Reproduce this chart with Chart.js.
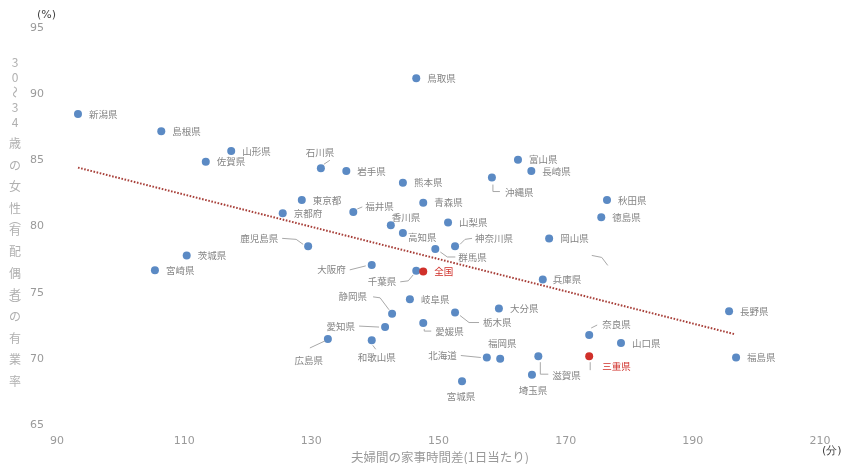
<!DOCTYPE html>
<html><head><meta charset="utf-8">
<script src="https://cdn.jsdelivr.net/npm/chart.js@4/dist/chart.umd.min.js"></script>
<style>html,body{margin:0;padding:0;background:#fff}#wrap{width:844px;height:464px;position:relative}</style>
</head><body><div id="wrap"><canvas id="c" width="844" height="464"></canvas></div>
<script>
// ---- data ----
const prefectures = ['新潟県','島根県','山形県','佐賀県','石川県','岩手県','鳥取県','熊本県','富山県','長崎県','沖縄県','秋田県','徳島県','東京都','京都府','福井県','青森県','香川県','高知県','山梨県','神奈川県','群馬県','鹿児島県','岡山県','兵庫県','茨城県','宮崎県','大阪府','千葉県','全国','岐阜県','静岡県','大分県','栃木県','愛知県','愛媛県','広島県','和歌山県','北海道','福岡県','滋賀県','埼玉県','宮城県','奈良県','山口県','三重県','長野県','福島県'];
const houseworkGap = [93.3,106.4,117.4,113.4,131.5,135.5,146.5,144.4,162.5,164.6,158.4,176.5,175.6,128.5,125.5,136.6,147.6,142.5,144.4,151.5,152.6,149.5,129.5,167.4,166.4,110.4,105.4,139.5,146.5,147.6,145.5,142.7,159.5,152.6,141.6,147.6,132.6,139.5,157.6,159.7,165.7,164.7,153.7,173.7,178.7,173.7,195.7,196.8];
const employmentRate = [88.5,87.2,85.7,84.9,84.4,84.2,91.2,83.3,85.05,84.2,83.7,82.0,80.7,82.0,81.0,81.1,81.8,80.1,79.5,80.3,78.5,78.3,78.5,79.1,76.0,77.8,76.7,77.1,76.65,76.6,74.5,73.4,73.8,73.5,72.4,72.7,71.5,71.4,70.1,70.0,70.2,68.8,68.3,71.8,71.2,70.2,73.6,70.1];
const highlighted = ['全国','三重県'];
const trendX = [93.3, 196.7];
const trendY = [84.45, 71.85];
const xTicks = [90,110,130,150,170,190,210];
const yTicks = [65,70,75,80,85,90,95];
const xTitle = '夫婦間の家事時間差(1日当たり)';
const yTitle = '30～34歳の女性︵有配偶者︶の有業率';
const xUnit = '(分)';
const yUnit = '(%)';

// ---- label layout (pixel offsets from each point) ----
const labelLayout = {
  '石川県': {dx:-15, dy:-16, leader:[[3,-4],[9,-8]]},
  '沖縄県': {dx:13, dy:15, leader:[[1,7],[1,14],[8,14]]},
  '福井県': {dx:12, dy:-6, leader:[[4,-3],[9,-5]]},
  '香川県': {dx:1, dy:-8},
  '高知県': {dx:5, dy:4},
  '神奈川県': {dx:20, dy:-8, leader:[[5,-2],[10,-7],[17,-8]]},
  '群馬県': {dx:23, dy:8, leader:[[5,3],[12,8],[20,8]]},
  '鹿児島県': {dx:-30, dy:-8, align:'right', leader:[[-5,-2],[-12,-7],[-26,-8]]},
  '大阪府': {dx:-26, dy:5, align:'right', leader:[[-6,1],[-22,5]]},
  '千葉県': {dx:-20, dy:11, align:'right', leader:[[-3,4],[-8,10],[-16,11]]},
  '静岡県': {dx:-25, dy:-17, align:'right', leader:[[-3,-4],[-12,-16],[-19,-17]]},
  '栃木県': {dx:28, dy:10, leader:[[5,3],[14,10],[24,10]]},
  '愛知県': {dx:-30, dy:-1, align:'right', leader:[[-6,0],[-26,-1]]},
  '愛媛県': {dx:12, dy:8, leader:[[1,6],[1,8],[8,8]]},
  '広島県': {dx:-19, dy:21, align:'center', leader:[[-3,2],[-18,9]]},
  '和歌山県': {dx:5, dy:17, align:'center', leader:[[1,5],[4,9]]},
  '北海道': {dx:-30, dy:-2, align:'right', leader:[[-6,0],[-26,-2]]},
  '福岡県': {dx:2, dy:-15, align:'center'},
  '滋賀県': {dx:14, dy:19, leader:[[2,6],[2,18],[10,18]]},
  '埼玉県': {dx:1, dy:16, align:'center'},
  '宮城県': {dx:-1, dy:15, align:'center'},
  '奈良県': {dx:13, dy:-11, leader:[[2,-7],[8,-10]]},
  '三重県': {dx:13, dy:10, leader:[[1,6],[1,14]]},
  '兵庫県': {dx:10, dy:0, extra:[[49,-24],[59,-22],[65,-14]]}
};

const BLUE = '#5b8ac4';
const RED = '#d0302a';
const CJK = '"Noto Sans CJK JP", "Noto Sans", sans-serif';

const points = prefectures.map((p,i)=>({x:houseworkGap[i], y:employmentRate[i]}));
const colors = prefectures.map(p => highlighted.includes(p) ? RED : BLUE);

const labelPlugin = {
  id: 'labels',
  afterDatasetsDraw(chart) {
    const ctx = chart.ctx;
    const meta = chart.getDatasetMeta(0);
    ctx.save();
    ctx.font = '9.5px ' + CJK;
    ctx.textBaseline = 'middle';
    meta.data.forEach((el, i) => {
      const name = prefectures[i];
      const cfg = labelLayout[name] || {};
      const dx = cfg.dx !== undefined ? cfg.dx : 11;
      const dy = cfg.dy || 0;
      const px = el.x, py = el.y;
      ctx.strokeStyle = '#a8a8a8';
      ctx.lineWidth = 1;
      ctx.lineJoin = 'round';
      [cfg.leader, cfg.extra].forEach(pl => {
        if (!pl) return;
        ctx.beginPath();
        pl.forEach((q, k) => { const X = px + q[0], Y = py + q[1]; k ? ctx.lineTo(X, Y) : ctx.moveTo(X, Y); });
        ctx.stroke();
      });
      ctx.textAlign = cfg.align || 'left';
      ctx.fillStyle = highlighted.includes(name) ? RED : '#858585';
      ctx.fillText(name, px + dx, py + dy);
    });
    // axis units and titles
    ctx.fillStyle = '#444';
    ctx.font = '11px "DejaVu Sans", sans-serif';
    ctx.textAlign = 'left';
    ctx.fillText(yUnit, 37, 15);
    ctx.fillText(xUnit, 822, 451);
    ctx.fillStyle = '#9a9a9a';
    ctx.font = '12.5px ' + CJK;
    ctx.textAlign = 'center';
    ctx.fillText(xTitle, 440, 457);
    // vertical y title
    ctx.font = '12px ' + CJK;
    ctx.fillStyle = '#b0b0b0';
    let y = 62;
    const chars = Array.from(yTitle);
    chars.forEach((ch, k) => {
      const narrow = /[0-9～]/.test(ch);
      const bracket = /[︵︶]/.test(ch);
      if (ch === '～') {
        ctx.save(); ctx.translate(15, y); ctx.rotate(Math.PI/2); ctx.fillText(ch, 0, 0); ctx.restore();
      } else {
        ctx.fillText(ch, 15, y);
      }
      const next = chars[k+1];
      if (!next) return;
      const nNarrow = /[0-9～]/.test(next);
      const nBracket = /[︵︶]/.test(next);
      if (narrow && nNarrow) y += 15;
      else if (bracket || nBracket) y += 11;
      else y += 21.5;
    });
    ctx.restore();
  }
};

new Chart(document.getElementById('c'), {
  type: 'scatter',
  data: {
    datasets: [
      {
        label: '有業率',
        data: points,
        pointBackgroundColor: colors,
        pointBorderWidth: 0,
        pointRadius: 4,
        pointHoverRadius: 4
      },
      {
        type: 'line',
        label: '近似線',
        data: trendX.map((x,i)=>({x, y: trendY[i]})),
        borderColor: '#a8403a',
        borderWidth: 2,
        borderDash: [1.6, 1.6],
        pointRadius: 0,
        fill: false
      }
    ]
  },
  options: {
    responsive: false,
    animation: false,
    events: [],
    layout: { padding: { top: 28, right: 24, left: 0, bottom: 0 } },
    plugins: { legend: { display: false }, tooltip: { enabled: false } },
    scales: {
      x: {
        type: 'linear', min: 90, max: 210,
        afterBuildTicks: s => { s.ticks = xTicks.map(v => ({value: v})); },
        afterFit: s => { s.height = 39; },
        grid: { display: false }, border: { display: false },
        ticks: { color: '#9a9a9a', padding: 2, font: { size: 11, family: '"DejaVu Sans", sans-serif' } }
      },
      y: {
        min: 65, max: 95,
        afterBuildTicks: s => { s.ticks = yTicks.map(v => ({value: v})); },
        afterFit: s => { s.width = 57; },
        grid: { display: false }, border: { display: false },
        ticks: { color: '#9a9a9a', padding: 5, font: { size: 11, family: '"DejaVu Sans", sans-serif' } }
      }
    }
  },
  plugins: [labelPlugin]
});
</script>
</body></html>
